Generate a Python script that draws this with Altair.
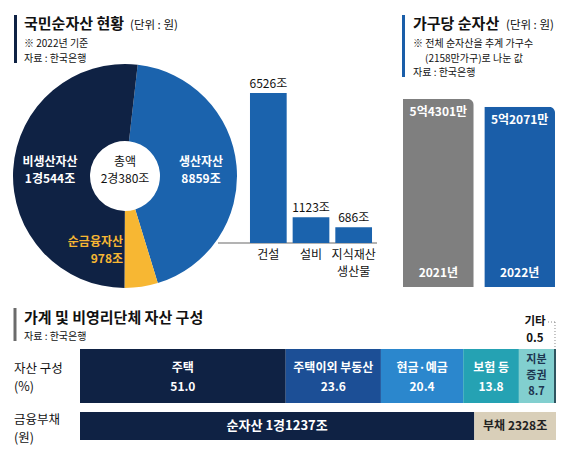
import math
import altair as alt
import pandas as pd

# ---------------- data ----------------
pie_names = ["생산자산", "순금융자산", "비생산자산"]
pie_values = [8859, 978, 10544]          # 조원
pie_total = 20380                        # 조원

prod_names = ["건설", "설비", "지식재산 생산물"]
prod_values = [6526, 1123, 686]          # 조원

hh_years = ["2021", "2022"]
hh_values = [54301, 52071]               # 만원

comp_names = ["주택", "주택이외 부동산", "현금·예금", "보험 등", "지분증권", "기타"]
comp_values = [51.0, 23.6, 20.4, 13.8, 8.7, 0.5]   # %

debt_names = ["순자산", "부채"]
debt_values = [11237, 2328]              # 조원

# ---------------- styles ----------------
FONT = "Noto Sans CJK KR"
NAVY = "#0f2244"
BLUE = "#1b63ad"
BLUE2 = "#1a5ea9"
YELLOW = "#f7b733"
GRAY = "#7f7f7f"
DARK = "#111111"
comp_colors = ["#0f2244", "#1c4f96", "#2b87cd", "#25a2b3", "#82cfcf", "#2f5560"]
debt_colors = ["#0f2244", "#d9cfb9"]


def jo(v):
    g, r = divmod(int(v), 10000)
    return f"{g}경{r}조" if g else f"{r}조"


def eok(v):
    e, r = divmod(int(v), 10000)
    return f"{e}억{r}만"


blank = pd.DataFrame({"k": [0]})


def label(text, x, y, size=12, weight="normal", color=DARK, align="left",
          baseline="alphabetic", lh=None):
    kw = dict(text=text, font=FONT, fontSize=size, fontWeight=weight, color=color,
              align=align, baseline=baseline)
    n = text.count("\n") + 1
    if n > 1:
        lh = lh or size * 1.35
        kw["lineBreak"] = "\n"
        kw["lineHeight"] = lh
        if baseline == "middle":
            y = y - (n - 1) * lh / 2
    return alt.Chart(blank).mark_text(**kw).encode(x=alt.value(x), y=alt.value(y))


def vrule(x, y1, y2, color, w=3, dash=None):
    kw = dict(color=color, strokeWidth=w)
    if dash:
        kw["strokeDash"] = dash
    return alt.Chart(blank).mark_rule(**kw).encode(
        x=alt.value(x), y=alt.value(y1), y2=alt.value(y2))


def hrule(x1, x2, y, color, w=1, dash=None):
    kw = dict(color=color, strokeWidth=w)
    if dash:
        kw["strokeDash"] = dash
    return alt.Chart(blank).mark_rule(**kw).encode(
        x=alt.value(x1), x2=alt.value(x2), y=alt.value(y))


# ---------------- titles / decorations ----------------
deco = [
    vrule(15.5, 15, 63, NAVY),
    label("국민순자산 현황", 24, 29, 15, "bold"),
    label("(단위 : 원)", 130, 29, 11.5),
    label("※ 2022년 기준", 24, 47, 10),
    label("자료 : 한국은행", 24, 62, 10),

    vrule(403.5, 15, 77, BLUE2),
    label("가구당 순자산", 413, 29, 15, "bold"),
    label("(단위 : 원)", 506, 29, 11.5),
    label("※ 전체 순자산을 추계 가구수", 413, 47, 10),
    label("(2158만가구)로 나눈 값", 425, 62, 10),
    label("자료 : 한국은행", 413, 76, 10),

    vrule(15, 308, 341, "#6b6b6b"),
    label("가계 및 비영리단체 자산 구성", 24, 323, 15, "bold"),
    label("자료 : 한국은행", 24, 340, 10),

    label("자산 구성\n(%)", 14, 378, 12.5, baseline="middle", lh=18),
    label("금융부채\n(원)", 14, 429, 12.5, baseline="middle", lh=18),

    hrule(218, 377, 243, "#9a9a9a", 1.5),
]

# ---------------- donut ----------------
pie_df = pd.DataFrame({"name": pie_names, "value": pie_values, "order": list(range(3))})
start = math.radians(6.5)
pie = alt.Chart(pie_df).mark_arc(innerRadius=35, outerRadius=112).encode(
    theta=alt.Theta("value:Q", stack=True,
                    scale=alt.Scale(range=[start, start + 2 * math.pi])),
    color=alt.Color("name:N", scale=alt.Scale(domain=pie_names, range=[BLUE, YELLOW, NAVY]),
                    legend=None),
    order=alt.Order("order:Q"),
    x=alt.value(125), y=alt.value(176),
)
pie_labels = [
    label(f"{pie_names[0]}\n{jo(pie_values[0])}", 201, 170, 12, "bold", "white",
          "center", "middle", 17),
    label(f"{pie_names[2]}\n{jo(pie_values[2])}", 50, 170, 12, "bold", "white",
          "center", "middle", 17),
    label(f"{pie_names[1]}\n{jo(pie_values[1])}", 123, 250, 12, "bold", YELLOW,
          "right", "middle", 17),
    label(f"총액\n{jo(pie_total)}", 125, 170, 12, "normal", DARK, "center", "middle", 17),
]

# ---------------- 생산자산 breakdown bars ----------------
prod_df = pd.DataFrame({"name": prod_names, "value": prod_values})
prod_df["lab"] = [f"{v}조" for v in prod_values]
px = alt.X("name:N", sort=prod_names,
           scale=alt.Scale(range=[247, 375], paddingInner=0.14, paddingOuter=0.07),
           axis=None)
py = alt.Y("value:Q",
           scale=alt.Scale(domain=[0, max(prod_values)], range=[243, 93], nice=False, zero=True),
           axis=None)
prod_base = alt.Chart(prod_df)
prod = alt.layer(
    prod_base.mark_bar(color=BLUE).encode(x=px, y=py),
    prod_base.mark_text(font=FONT, fontSize=12, baseline="bottom", dy=-2, color=DARK)
    .encode(x=px, y=py, text="lab:N"),
    prod_base.mark_text(font=FONT, fontSize=12, baseline="top", lineBreak=" ",
                        lineHeight=17, color=DARK)
    .encode(x=px, y=alt.value(250), text="name:N"),
)

# ---------------- 가구당 순자산 bars ----------------
hh_df = pd.DataFrame({"year": hh_years, "value": hh_values})
hh_df["lab"] = [eok(v) for v in hh_values]
hh_df["ylab"] = [f"{y}년" for y in hh_years]
hx = alt.X("year:N", sort=hh_years,
           scale=alt.Scale(range=[403, 555], paddingInner=0.13, paddingOuter=0), axis=None)
hy = alt.Y("value:Q",
           scale=alt.Scale(domain=[0, max(hh_values)], range=[287, 99], nice=False, zero=True),
           axis=None)
hh_base = alt.Chart(hh_df)
hh = alt.layer(
    hh_base.mark_bar(cornerRadiusTopRight=6).encode(
        x=hx, y=hy,
        color=alt.Color("year:N", scale=alt.Scale(domain=hh_years, range=[GRAY, BLUE2]),
                        legend=None)),
    hh_base.mark_text(font=FONT, fontSize=12, fontWeight="bold", color="white",
                      baseline="middle", dy=13)
    .encode(x=hx, y=hy, text="lab:N"),
    hh_base.mark_text(font=FONT, fontSize=12, fontWeight="bold", color="white",
                      baseline="middle")
    .encode(x=hx, y=alt.value(273), text="ylab:N"),
)

# ---------------- 자산 구성 stacked bar ----------------
comp_df = pd.DataFrame({"name": comp_names, "value": comp_values,
                        "order": list(range(len(comp_names))), "row": "asset"})
display = {"지분증권": "지분\n증권"}
comp_df["lab"] = [f"{display.get(n, n)}\n{v:.1f}" for n, v in zip(comp_names, comp_values)]
cx_scale = alt.Scale(domain=[0, sum(comp_values)], range=[80, 556], nice=False, zero=True)
cy = alt.Y("row:N", scale=alt.Scale(range=[349, 403], paddingInner=0, paddingOuter=0),
           axis=None)
comp_base = alt.Chart(comp_df)
comp_stacked = comp_base.transform_stack(
    stack="value", groupby=["row"], sort=[alt.SortField("order")], as_=["x0", "x1"]
).transform_calculate(mid="(datum.x0 + datum.x1) / 2")
cmx = alt.X("mid:Q", scale=cx_scale, axis=None)
comp = alt.layer(
    comp_base.mark_bar().encode(
        x=alt.X("value:Q", stack="zero", scale=cx_scale, axis=None),
        y=cy,
        color=alt.Color("name:N", scale=alt.Scale(domain=comp_names, range=comp_colors),
                        legend=None),
        order=alt.Order("order:Q"),
    ),
    comp_stacked.transform_filter("datum.order < 4").mark_text(
        font=FONT, fontSize=12, fontWeight="bold", color="white", baseline="middle",
        lineBreak="\n", lineHeight=19, dy=-8).encode(x=cmx, y=cy, text="lab:N"),
    comp_stacked.transform_filter("datum.order == 4").mark_text(
        font=FONT, fontSize=11, fontWeight="bold", color="#1d3550", baseline="middle",
        lineBreak="\n", lineHeight=16, dy=-16).encode(x=cmx, y=cy, text="lab:N"),
    comp_stacked.transform_filter("datum.order == 5").mark_text(
        font=FONT, fontSize=11.5, fontWeight="bold", color=DARK, baseline="middle",
        lineBreak="\n", lineHeight=17, dx=-20).encode(x=cmx, y=alt.value(322), text="lab:N"),
    comp_stacked.transform_filter("datum.order == 5").mark_rule(
        color="#8a8a8a", strokeDash=[1, 2], strokeWidth=1).encode(
        x=cmx, y=alt.value(322), y2=alt.value(349)),
)
comp_tick = hrule(548, 555, 322, "#8a8a8a", 1, [1, 2])

# ---------------- 금융부채 stacked bar ----------------
debt_df = pd.DataFrame({"name": debt_names, "value": debt_values,
                        "order": [0, 1], "row": "debt"})
debt_df["lab"] = [f"{n} {jo(v)}" for n, v in zip(debt_names, debt_values)]
dx_scale = alt.Scale(domain=[0, sum(debt_values)], range=[80, 556], nice=False, zero=True)
dy_enc = alt.Y("row:N", scale=alt.Scale(range=[412, 440], paddingInner=0, paddingOuter=0),
               axis=None)
debt_base = alt.Chart(debt_df)
debt_stacked = debt_base.transform_stack(
    stack="value", groupby=["row"], sort=[alt.SortField("order")], as_=["x0", "x1"]
).transform_calculate(mid="(datum.x0 + datum.x1) / 2")
dmx = alt.X("mid:Q", scale=dx_scale, axis=None)
debt = alt.layer(
    debt_base.mark_bar().encode(
        x=alt.X("value:Q", stack="zero", scale=dx_scale, axis=None),
        y=dy_enc,
        color=alt.Color("name:N", scale=alt.Scale(domain=debt_names, range=debt_colors),
                        legend=None),
        order=alt.Order("order:Q"),
    ),
    debt_stacked.transform_filter("datum.order == 0").mark_text(
        font=FONT, fontSize=13, fontWeight="bold", color="white", baseline="middle"
    ).encode(x=dmx, y=dy_enc, text="lab:N"),
    debt_stacked.transform_filter("datum.order == 1").mark_text(
        font=FONT, fontSize=12, fontWeight="bold", color="#222222", baseline="middle"
    ).encode(x=dmx, y=dy_enc, text="lab:N"),
)

chart = alt.layer(
    *deco, pie, *pie_labels, prod, hh, comp, comp_tick, debt
).resolve_scale(
    x="independent", y="independent", color="independent", theta="independent"
).properties(
    width=570, height=456, padding=0, background="white",
    autosize=alt.AutoSizeParams(type="none"),
).configure_view(strokeWidth=0)

chart.save("out.html", embed_options={"renderer": "svg", "actions": False})
